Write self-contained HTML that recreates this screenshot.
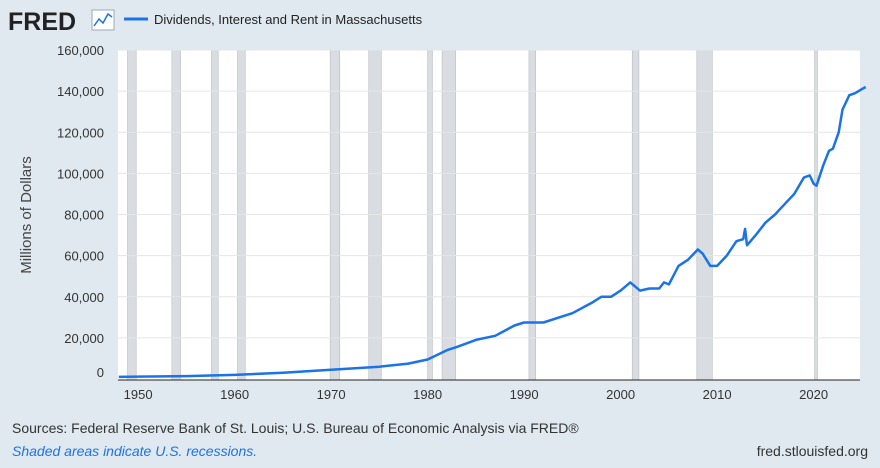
<!DOCTYPE html>
<html><head><meta charset="utf-8"><style>
body{margin:0;background:#e1e9f0;width:880px;height:463px;overflow:hidden;font-family:"Liberation Sans",sans-serif}
</style></head><body>
<svg id="s" width="880" height="463" xmlns="http://www.w3.org/2000/svg" font-family="Liberation Sans, sans-serif">
<rect width="880" height="463" fill="#e1e9f0"/>
<text x="8" y="30" font-size="25" font-weight="bold" fill="#222">FRED</text>
<rect x="92" y="10" width="22" height="20" fill="#fff" stroke="#9ab" stroke-width="1"/>
<polyline points="94,26 99,19 103,23 108,14 112,17" fill="none" stroke="#1a73e8" stroke-width="1.5"/>
<line x1="124" y1="19" x2="148" y2="19" stroke="#1a73e8" stroke-width="3"/>
<text x="154" y="24" font-size="13" fill="#222">Dividends, Interest and Rent in Massachusetts</text>
<rect x="118" y="50" width="742" height="330" fill="#fff"/>
<g id="rec" fill="#d9dde1" stroke="#aeb4ba" stroke-width="0.5"></g>
<g id="grid" stroke="#e4e6e8" stroke-width="1"></g>
<g id="yl" font-size="13" fill="#333" text-anchor="end"></g>
<g id="xl" font-size="13" fill="#333" text-anchor="middle"></g>
<line x1="118" y1="380" x2="860" y2="380" stroke="#222" stroke-width="1"/>
<polyline id="ln" fill="none" stroke="#1a73e8" stroke-width="2.5" stroke-linejoin="round"/>
<text transform="translate(31,215) rotate(-90)" font-size="15" fill="#444" text-anchor="middle">Millions of Dollars</text>
<text x="12" y="433" font-size="14" fill="#333">Sources: Federal Reserve Bank of St. Louis; U.S. Bureau of Economic Analysis via FRED®</text>
<text x="12" y="456" font-size="14" fill="#1a73e8" font-style="italic">Shaded areas indicate U.S. recessions.</text>
<text x="868" y="456" font-size="14" fill="#333" text-anchor="end">fred.stlouisfed.org</text>
</svg>
<script>
var X=function(y){return 118.8+(y-1948)*9.65},Y=function(v){return 379-v*329/160000};
var ns="http://www.w3.org/2000/svg";
function el(p,t,a,txt){var e=document.createElementNS(ns,t);for(var k in a)e.setAttribute(k,a[k]);if(txt)e.textContent=txt;document.getElementById(p).appendChild(e);}
[[1948.9,1949.8],[1953.5,1954.4],[1957.6,1958.3],[1960.3,1961.1],[1969.9,1970.9],[1973.9,1975.2],[1980,1980.5],[1981.5,1982.9],[1990.5,1991.2],[2001.2,2001.9],[2007.9,2009.5],[2020.1,2020.4]].forEach(function(r){el("rec","rect",{x:X(r[0]),y:50,width:X(r[1])-X(r[0]),height:330});});
for(var v=0;v<=160000;v+=20000){if(v>0)el("grid","line",{x1:118,x2:860,y1:Y(v),y2:Y(v)});el("yl","text",{x:104,y:Y(v)+(v?5:-2)},v.toLocaleString("en-US"));}
for(var y=1950;y<=2020;y+=10)el("xl","text",{x:X(y),y:399},""+y);
var d=[[1948,1000],[1955,1400],[1960,2000],[1965,3000],[1970,4500],[1975,6000],[1978,7500],[1980,9500],[1982,14000],[1983,15500],[1985,19000],[1987,21000],[1989,26000],[1990,27500],[1992,27500],[1995,32000],[1997,37000],[1998,40000],[1999,40000],[2000,43000],[2001,47000],[2002,43000],[2003,44000],[2004,44000],[2004.5,47000],[2005,46000],[2006,55000],[2007,58000],[2008,63000],[2008.5,61000],[2009.3,55000],[2010,55000],[2011,60000],[2012,67000],[2012.7,68000],[2012.9,73000],[2013.1,65000],[2014,70000],[2015,76000],[2016,80000],[2017,85000],[2018,90000],[2019,98000],[2019.6,99000],[2020.0,95000],[2020.3,94000],[2021,104000],[2021.6,111000],[2022,112000],[2022.6,120000],[2023,131000],[2023.7,138000],[2024.3,139000],[2025,141000],[2025.4,142000]];
document.getElementById("ln").setAttribute("points",d.map(function(p){return X(p[0]).toFixed(1)+","+Y(p[1]).toFixed(1)}).join(" "));
</script>
</body></html>
